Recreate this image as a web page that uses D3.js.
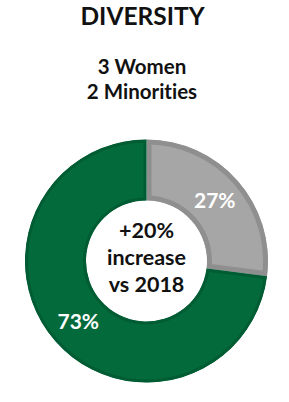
<!DOCTYPE html>
<html><head><meta charset="utf-8">
<script src="https://cdn.jsdelivr.net/npm/d3@7"></script>
<style>
html,body{margin:0;padding:0;background:#fff;}
svg{display:block;}
text{font-family:Lato,"Open Sans",sans-serif;font-weight:700;font-variant-ligatures:none;}
</style></head>
<body>
<svg id="chart" width="289" height="402"></svg>
<script>
const title = "DIVERSITY";
const subtitleLines = ["3 Women", "2 Minorities"];
const categories = ["Other", "Women & Minorities"];
const values = [27, 73];
const labels = ["27%", "73%"];
const centerLines = ["+20%", "increase", "vs 2018"];
const fills = ["#a6a6a6", "#036a3c"];
const borders = ["#8f8f8f", "#005c33"];
const borderW = [5, 3];

const svg = d3.select("#chart");
const cx = 146.5, cy = 261, rOuter = 121.5, rInner = 60.5;

svg.append("text").attr("x", 142.5).attr("y", 25).attr("text-anchor","middle")
  .attr("font-size", 24.5).attr("fill","#111").text(title);
svg.selectAll("text.sub").data(subtitleLines).enter().append("text")
  .attr("class","sub").attr("x",142).attr("y",(d,i)=>73.5+i*25.5)
  .attr("text-anchor","middle").attr("font-size",20.5).attr("fill","#111").text(d=>d);

const pie = d3.pie().sort(null).value(d=>d);
const arc = d3.arc().innerRadius(rInner).outerRadius(rOuter);
const arcs = pie(values);
const g = svg.append("g").attr("transform",`translate(${cx},${cy})`);
const defs = svg.append("defs");
arcs.forEach((a,i)=>{
  defs.append("clipPath").attr("id","clip"+i).append("path").attr("d",arc(a));
});
g.selectAll("path.slice").data(arcs).enter().append("path")
  .attr("class","slice").attr("d",arc)
  .attr("fill",(d,i)=>fills[i])
  .attr("stroke",(d,i)=>borders[i])
  .attr("stroke-width",(d,i)=>borderW[i]*2)
  .attr("clip-path",(d,i)=>`url(#clip${i})`);
g.selectAll("text.lbl").data(arcs).enter().append("text")
  .attr("class","lbl")
  .attr("x",d=>arc.centroid(d)[0]).attr("y",d=>arc.centroid(d)[1]+7.5)
  .attr("text-anchor","middle").attr("font-size",21).attr("fill","#fff")
  .text((d,i)=>labels[i]);
g.selectAll("text.ctr").data(centerLines).enter().append("text")
  .attr("class","ctr").attr("x",0).attr("y",(d,i)=>-23.5+i*27.3)
  .attr("text-anchor","middle").attr("font-size",21.5).attr("fill","#111").text(d=>d);
</script>
</body></html>
